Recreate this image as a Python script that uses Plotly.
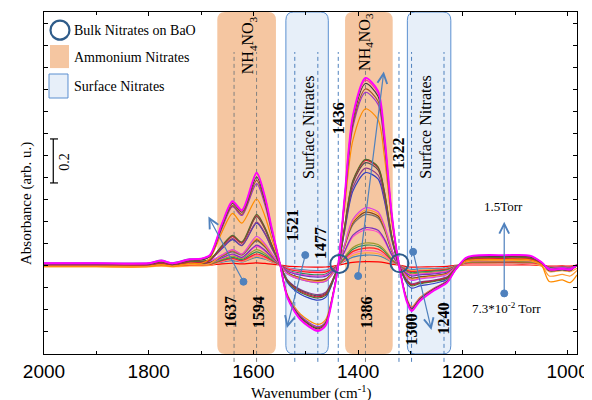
import plotly.graph_objects as go

# ---------------- data ----------------
wn = [2000, 1900, 1800, 1776, 1755, 1722, 1700, 1683, 1660, 1640, 1622, 1594, 1578, 1565, 1550,
      1535, 1510, 1477, 1462, 1450, 1438, 1426, 1410, 1386, 1362, 1350, 1336, 1322, 1307, 1298,
      1282, 1255, 1230, 1215, 1195, 1180, 1120, 1072, 1050, 1035, 1010, 995, 982]

s01 = [.008,.008,.008,.020,.008,.026,.029,.046,.189,.29,.25,.42,.311,.168,.013,-.15,-.249,-.30,-.276,-.165,0,.306,.68,.85,.791,.595,.238,0,-.168,-.21,-.164,-.116,-.080,-.025,.032,.043,.045,.043,.014,-.02,-.017,-.02,0]
s02 = [.006,.006,.006,.018,.006,.024,.027,.043,.187,.285,.245,.415,.307,.166,.012,-.148,-.245,-.295,-.271,-.162,0,.302,.672,.84,.781,.588,.235,0,-.164,-.205,-.160,-.113,-.078,-.025,.030,.041,.043,.041,.013,-.022,-.019,-.022,0]
s03 = [.004,.004,.004,.016,.004,.022,.024,.040,.18,.28,.24,.40,.296,.16,.012,-.145,-.241,-.29,-.267,-.160,0,.297,.66,.825,.767,.578,.231,0,-.16,-.20,-.156,-.11,-.076,-.024,.028,.038,.04,.038,.012,-.025,-.021,-.025,0]
s04 = [.003,.003,.003,.015,.003,.021,.022,.038,.173,.27,.23,.385,.285,.154,.012,-.143,-.237,-.285,-.262,-.157,0,.288,.64,.80,.744,.56,.224,0,-.16,-.20,-.156,-.11,-.076,-.024,.027,.036,.038,.036,.011,-.02,-.017,-.02,0]
s05 = [.01,.01,.01,.022,.01,.028,.029,.043,.167,.265,.225,.37,.274,.148,.011,-.14,-.232,-.28,-.258,-.154,0,.283,.628,.785,.730,.55,.22,0,-.156,-.195,-.152,-.107,-.074,-.023,.029,.04,.042,.04,.013,-.018,-.015,-.018,0]
s06 = [-.008,-.008,-.008,.002,-.008,.008,.007,.03,.15,.235,.19,.30,.222,.12,.009,-.135,-.224,-.27,-.248,-.149,0,.256,.568,.71,.66,.497,.199,0,-.152,-.19,-.148,-.105,-.072,-.023,.018,.024,.025,.024,0,-.075,-.068,-.08,-.045]
s07 = [.005,.005,.005,.013,.005,.017,.017,.026,.088,.135,.105,.23,.17,.092,.007,-.075,-.125,-.15,-.138,-.083,0,.173,.384,.48,.446,.336,.134,0,-.076,-.095,-.085,-.075,-.06,-.02,.025,.033,.035,.033,.011,-.02,-.017,-.02,0]
s08 = [.002,.002,.002,.010,.002,.014,.013,.022,.085,.13,.10,.225,.167,.09,.007,-.073,-.12,-.145,-.133,-.08,0,.171,.38,.475,.442,.333,.133,0,-.072,-.09,-.081,-.072,-.057,-.019,.021,.029,.03,.029,.009,-.02,-.017,-.02,0]
s09 = [.004,.004,.004,.012,.004,.016,.015,.024,.085,.13,.10,.22,.163,.088,.007,-.07,-.116,-.14,-.129,-.077,0,.167,.372,.465,.432,.326,.13,0,-.072,-.09,-.081,-.072,-.057,-.019,.021,.029,.03,.029,.009,-.025,-.021,-.025,0]
s10 = [.002,.002,.002,.010,.002,.014,.012,.020,.078,.12,.09,.195,.144,.078,.006,-.068,-.112,-.135,-.124,-.074,0,.158,.352,.44,.409,.308,.123,0,-.068,-.085,-.077,-.068,-.054,-.018,.02,.027,.028,.027,.008,-.02,-.017,-.02,0]
s11 = [.006,.006,.006,.012,.006,.014,.012,.018,.046,.07,.05,.13,.096,.052,.004,-.04,-.066,-.08,-.074,-.044,0,.094,.208,.26,.242,.182,.073,0,-.056,-.07,-.063,-.056,-.044,-.015,.021,.029,.03,.029,.009,-.015,-.013,-.015,0]
s12 = [-.005,-.005,-.005,.001,-.005,.003,.001,.006,.044,.068,.05,.12,.089,.048,.004,-.038,-.062,-.075,-.069,-.041,0,.09,.2,.25,.233,.175,.07,0,-.052,-.065,-.059,-.052,-.041,-.014,.014,.019,.02,.019,0,-.05,-.043,-.05,-.025]
s13 = [.002,.002,.002,.008,.002,.01,.008,.012,.042,.065,.048,.115,.085,.046,.003,-.035,-.058,-.07,-.064,-.039,0,.086,.192,.24,.223,.168,.067,0,-.048,-.06,-.054,-.048,-.038,-.013,.018,.024,.025,.024,.008,-.02,-.017,-.02,0]
s14 = [.003,.003,.003,.009,.003,.011,.009,.013,.039,.06,.045,.11,.081,.044,.003,-.035,-.058,-.07,-.064,-.039,0,.083,.184,.23,.214,.161,.064,0,-.048,-.06,-.054,-.048,-.038,-.013,.015,.021,.022,.021,.007,-.02,-.017,-.02,0]
s15 = [.004,.004,.004,.009,.004,.01,.008,.012,.033,.05,.035,.09,.067,.036,.003,-.028,-.046,-.055,-.051,-.03,0,.061,.136,.17,.158,.119,.048,0,-.04,-.05,-.045,-.04,-.032,-.011,.014,.019,.02,.019,.006,-.015,-.013,-.015,0]
s16 = [.002,.002,.002,.007,.002,.008,.006,.01,.031,.048,.033,.085,.063,.034,.003,-.025,-.042,-.05,-.046,-.028,0,.058,.128,.16,.149,.112,.045,0,-.036,-.045,-.041,-.036,-.028,-.01,.014,.019,.02,.019,.006,-.015,-.013,-.015,0]
s17 = [0,0,0,.004,0,.005,.004,.007,.026,.04,.03,.07,.052,.028,.002,-.04,-.066,-.08,-.074,-.044,0,.036,.08,.10,.093,.07,.028,0,-.032,-.04,-.036,-.032,-.025,-.008,.011,.014,.015,.014,.005,-.015,-.013,-.015,0]
s18 = [.001,.001,.001,.005,.001,.006,.004,.006,.023,.035,.025,.06,.044,.024,.002,-.023,-.037,-.045,-.041,-.025,0,.032,.072,.09,.084,.063,.025,0,-.028,-.035,-.032,-.028,-.022,-.007,.011,.014,.015,.014,.005,-.012,-.01,-.012,0]
s19 = [-.002,-.002,-.002,.001,-.002,.002,.001,.003,.02,.03,.02,.05,.037,.02,.002,-.018,-.029,-.035,-.032,-.019,0,.028,.062,.077,.072,.054,.022,0,-.024,-.03,-.027,-.024,-.019,-.006,.008,.011,.012,.011,.004,-.01,-.009,-.01,0]
s20 = [0,0,0,.003,0,.004,.003,.004,.018,.028,.018,.045,.033,.018,.001,-.015,-.025,-.03,-.028,-.017,0,.023,.052,.065,.06,.046,.018,0,-.024,-.03,-.027,-.024,-.019,-.006,.007,.01,.01,.01,.003,-.01,-.009,-.01,0]
s21 = [-.008,-.008,-.008,-.005,-.008,-.004,-.004,-.002,.016,.025,.016,.04,.03,.016,.001,-.015,-.025,-.03,-.028,-.017,0,.02,.044,.055,.051,.039,.015,0,-.02,-.025,-.023,-.02,-.016,-.005,.006,.008,.008,.008,-.005,-.03,-.026,-.03,-.015]
s22 = [0,0,0,.002,0,.003,.002,.003,.013,.02,.014,.035,.026,.014,.001,-.013,-.021,-.025,-.023,-.014,0,.016,.036,.045,.042,.032,.013,0,-.016,-.02,-.018,-.016,-.013,-.004,.006,.008,.008,.008,.002,-.01,-.009,-.01,0]
s23 = [.006,.006,.006,.014,.006,.018,.016,.023,.075,.115,.088,.19,.141,.076,.006,-.08,-.133,-.16,-.147,-.088,0,.151,.336,.42,.391,.294,.118,0,-.084,-.105,-.095,-.084,-.066,-.022,.028,.038,.04,.038,.012,-.022,-.019,-.022,0]
s24 = [-.003,-.003,-.003,-.002,-.003,-.002,-.002,-.001,.005,.008,.005,.01,.007,.004,0,-.005,-.008,-.01,-.009,-.006,0,.005,.012,.015,.014,.011,.004,0,-.008,-.01,-.009,-.008,-.006,-.002,0,0,0,0,-.002,-.005,-.004,-.005,0]

# drawing order (smallest first), with colours
series = [
    (s24, '#ff0000'), (s22, '#4682b4'), (s21, '#ffa040'), (s20, '#ff69b4'), (s19, '#ff2020'),
    (s18, '#2e8b57'), (s17, '#9a9a2e'), (s16, '#ff44cc'), (s15, '#7b2fbe'), (s14, '#707070'),
    (s13, '#8b4513'), (s12, '#ff9933'), (s11, '#e040e0'), (s23, '#3040c0'), (s10, '#8b3a8b'),
    (s09, '#505050'), (s08, '#dc143c'), (s07, '#556b2f'), (s06, '#ff8c00'), (s05, '#9932cc'),
    (s04, '#a0522d'), (s03, '#404040'), (s02, '#ff3399'), (s01, '#ff00ff'),
]

x_ticks = [2000, 1800, 1600, 1400, 1200, 1000]
peak_labels = ["1637", "1594", "1521", "1477", "1436", "1386", "1322", "1300", "1240"]

# ---------------- figure ----------------
SERIF = "Liberation Serif, Times New Roman, serif"
BLUE = '#4f81bd'
PEACH = '#f5c6a1'
LBLUE_FILL = '#e7eff9'
LBLUE_LINE = '#5b8fd0'
RING = '#2f5c8a'

fig = go.Figure()
for i, (vals, col) in enumerate(series):
    w = 1.8 if i == len(series) - 1 else 1.2
    fig.add_trace(go.Scatter(x=wn, y=vals, mode='lines', line=dict(color=col, width=w, shape='spline', smoothing=0.8),
                             hoverinfo='skip', showlegend=False))


def rbox(xl, xr, rx=15.0, ry=0.024):
    return (f"M{xl - rx},0 L{xr + rx},0 Q{xr},0 {xr},{ry} L{xr},{1 - ry} Q{xr},1 {xr + rx},1 "
            f"L{xl - rx},1 Q{xl},1 {xl},{1 - ry} L{xl},{ry} Q{xl},0 {xl - rx},0 Z")


shapes = []
for xl, xr in [(1669, 1557), (1425, 1334)]:
    shapes.append(dict(type='path', path=rbox(xl, xr), xref='x', yref='paper', fillcolor=PEACH,
                       line=dict(width=0), layer='below'))
for xl, xr in [(1538, 1457), (1306, 1223)]:
    shapes.append(dict(type='path', path=rbox(xl, xr), xref='x', yref='paper', fillcolor=LBLUE_FILL,
                       line=dict(color=LBLUE_LINE, width=1), layer='below'))
for xv, col, ytop in [(1637, '#808080', 0.883), (1594, '#808080', 0.883), (1386, '#808080', 0.83),
                      (1521, BLUE, 0.883), (1477, BLUE, 0.883), (1438, BLUE, 0.883),
                      (1322, BLUE, 0.883), (1298, BLUE, 0.883), (1236, BLUE, 0.883)]:
    shapes.append(dict(type='line', xref='x', yref='paper', x0=xv, x1=xv, y0=-0.023, y1=ytop,
                       line=dict(color=col, width=1, dash='4px,3px'), layer='below'))
for xv, yv in [(1436, 0.005), (1321, 0.008)]:
    shapes.append(dict(type='circle', xref='x', yref='y', xsizemode='pixel', ysizemode='pixel',
                       xanchor=xv, yanchor=yv, x0=-9, x1=9, y0=-9, y1=9,
                       line=dict(color=RING, width=2), layer='above'))
arrows = [((1619, -0.076), (1686, 0.22)), ((1501, 0.045), (1536, -0.286)),
          ((1400, -0.05), (1351, 0.879)), ((1295, 0.06), (1260, -0.295)),
          ((1121, -0.129), (1121, 0.197))]
for (tx, ty), _ in arrows:
    shapes.append(dict(type='circle', xref='x', yref='y', xsizemode='pixel', ysizemode='pixel',
                       xanchor=tx, yanchor=ty, x0=-3.5, x1=3.5, y0=-3.5, y1=3.5,
                       fillcolor=BLUE, line=dict(color=BLUE, width=1), layer='above'))
shapes.append(dict(type='circle', xref='paper', yref='paper', x0=0.0122, x1=0.0478, y0=0.919, y1=0.975,
                   line=dict(color=RING, width=2.2)))
shapes.append(dict(type='rect', xref='paper', yref='paper', x0=0.0113, x1=0.0469, y0=0.836, y1=0.9035,
                   fillcolor=PEACH, line=dict(width=0)))
shapes.append(dict(type='rect', xref='paper', yref='paper', x0=0.0094, x1=0.045, y0=0.7485, y1=0.8187,
                   fillcolor=LBLUE_FILL, line=dict(color=LBLUE_LINE, width=1)))
shapes.append(dict(type='line', xref='paper', yref='y', x0=0.0174, x1=0.0174, y0=0.373, y1=0.573,
                   line=dict(color='black', width=1.2)))
for yv in (0.373, 0.573):
    shapes.append(dict(type='line', xref='paper', yref='y', x0=0.0113, x1=0.0263, y0=yv, y1=yv,
                       line=dict(color='black', width=1.2)))

ann = []
for (tx, ty), (hx, hy) in arrows:
    ann.append(dict(x=hx, y=hy, ax=tx, ay=ty, xref='x', yref='y', axref='x', ayref='y', text='',
                    showarrow=True, arrowhead=5, arrowsize=1.6, arrowwidth=1.2, arrowcolor=BLUE, standoff=0))

def txt(x, y, s, size=16, angle=-90, xref='x', yref='y', xanchor='center', yanchor='middle'):
    ann.append(dict(x=x, y=y, text=s, xref=xref, yref=yref, showarrow=False, textangle=angle,
                    xanchor=xanchor, yanchor=yanchor, font=dict(family=SERIF, size=size, color='black')))

txt(1610, 1.0, "NH<sub>4</sub>NO<sub>3</sub>")
txt(1385, 1.014, "NH<sub>4</sub>NO<sub>3</sub>")
txt(1496, 0.627, "Surface Nitrates")
txt(1273, 0.627, "Surface Nitrates")
label_pos = [(1645, -0.214), (1591, -0.214), (1524, 0.182), (1473, 0.10), (1438, 0.668),
             (1384, -0.218), (1323, 0.509), (1298, -0.295), (1237, -0.241)]
for lab, (lx, ly) in zip(peak_labels, label_pos):
    txt(lx, ly, f"<b>{lab}</b>")
txt(1123, 0.265, "1.5Torr", size=13, angle=0)
txt(1116, -0.197, "7.3*10<sup>-2</sup> Torr", size=13, angle=0)
txt(0.0525, 0.947, "Bulk Nitrates on BaO", size=14, angle=0, xref='paper', yref='paper', xanchor='left')
txt(0.0525, 0.868, "Ammonium Nitrates", size=14, angle=0, xref='paper', yref='paper', xanchor='left')
txt(0.0525, 0.781, "Surface Nitrates", size=14, angle=0, xref='paper', yref='paper', xanchor='left')
txt(0.0394, 0.5623, "0.2", size=14, angle=-90, xref='paper', yref='paper')
txt(0.5, -0.114, "Wavenumber (cm<sup>-1</sup>)", size=15, angle=0, xref='paper', yref='paper')
txt(-0.0338, 0.4415, "Absorbance (arb. u.)", size=15, angle=-90, xref='paper', yref='paper')

# the page adds an 8px body margin, so the figure is 8px smaller and margins shifted
fig.update_layout(
    width=584, height=392, autosize=False,
    margin=dict(l=36, r=15, t=4, b=46),
    paper_bgcolor='white', plot_bgcolor='white',
    shapes=shapes, annotations=ann, showlegend=False,
    xaxis=dict(range=[2000, 982], tickvals=x_ticks, ticktext=[str(v) for v in x_ticks],
               ticks='inside', ticklen=4, tickcolor='black', showgrid=False, zeroline=False,
               showline=True, linecolor='black', linewidth=1.3, mirror='ticks',
               tickfont=dict(family='Liberation Sans, Arial, sans-serif', size=19, color='black'),
               minor=dict(dtick=100, ticks='inside', ticklen=3, tickcolor='black')),
    yaxis=dict(range=[-0.4045, 1.15], tick0=0, dtick=0.1, ticks='inside', ticklen=4, tickcolor='black',
               showticklabels=False, showgrid=False, zeroline=False,
               showline=True, linecolor='black', linewidth=1.3, mirror='ticks'),
)

fig.write_html("out.html")
